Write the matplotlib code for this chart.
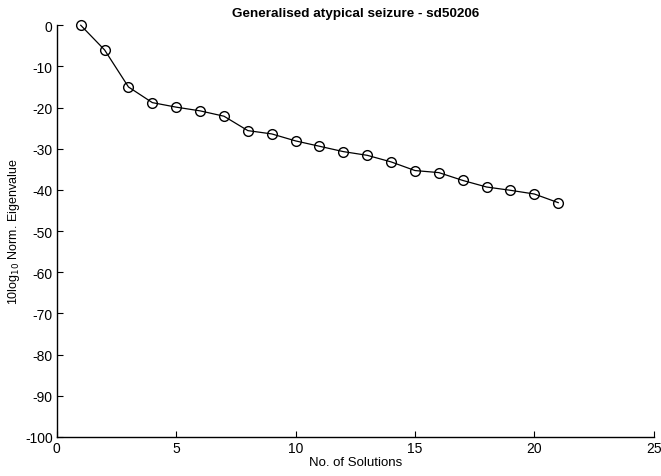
import matplotlib
matplotlib.use("Agg")
import matplotlib.pyplot as plt

# values
solutions = [1, 2, 3, 4, 5, 6, 7, 8, 9, 10, 11, 12, 13, 14, 15, 16, 17, 18, 19, 20, 21]
eigen_db = [0.0, -6.0, -15.0, -18.8, -19.9, -20.8, -22.1, -25.6, -26.4, -28.1, -29.4,
            -30.7, -31.6, -33.2, -35.3, -35.8, -37.7, -39.3, -40.1, -41.0, -43.1]
x_ticks = [0, 5, 10, 15, 20, 25]
y_ticks = [0, -10, -20, -30, -40, -50, -60, -70, -80, -90, -100]

plt.rcParams['font.family'] = ['Liberation Sans', 'DejaVu Sans']
plt.rcParams['axes.unicode_minus'] = False

fig = plt.figure(figsize=(6.61, 4.77), dpi=100)
ax = fig.add_axes([0.086, 0.082, 0.903, 0.863])

ax.plot(solutions, eigen_db, color='k', linewidth=0.9, marker='o', markersize=7,
        markerfacecolor='none', markeredgecolor='k', markeredgewidth=1.0, clip_on=False)

ax.set_xlim(0, 25)
ax.set_ylim(-100, 0)
ax.set_xticks(x_ticks)
ax.set_yticks(y_ticks)
ax.tick_params(direction='in', length=4, labelsize=10, width=0.8, pad=3)

# matlab style, only left and bottom axis lines
ax.spines['top'].set_visible(False)
ax.spines['right'].set_visible(False)
ax.spines['left'].set_linewidth(1.0)
ax.spines['bottom'].set_linewidth(1.0)

ax.set_title('Generalised atypical seizure - sd50206', fontsize=9.7, fontweight='bold', pad=7)
ax.set_xlabel('No. of Solutions', fontsize=9.5, labelpad=1)
ax.set_ylabel('10log$_{10}$ Norm. Eigenvalue', fontsize=9)
ax.yaxis.set_label_coords(-0.058, 0.5)

fig.savefig('out.png', dpi=100)
